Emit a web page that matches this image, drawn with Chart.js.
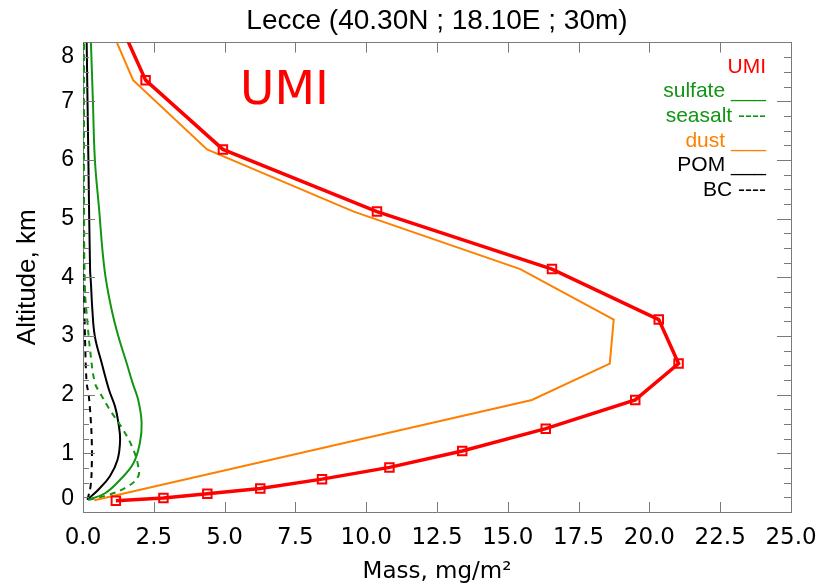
<!DOCTYPE html>
<html>
<head>
<meta charset="utf-8">
<script src="https://cdn.jsdelivr.net/npm/chart.js@4.4.0/dist/chart.umd.min.js"></script>
<style>
  body { margin: 0; background: #fff; }
  canvas { display: block; }
</style>
</head>
<body>
<canvas id="chartLecce" width="832" height="587"></canvas>
<script>
// perfiles verticales (masa mg/m2 vs altitud km)
const umiMass = [1.16, 2.84, 4.39, 6.26, 8.44, 10.82, 13.39, 16.34, 19.50, 21.03, 20.33, 16.56, 10.38, 4.94, 2.21, 1.05];
const umiAlt  = [0.19, 0.24, 0.31, 0.40, 0.56, 0.76, 1.04, 1.42, 1.91, 2.53, 3.28, 4.14, 5.12, 6.18, 7.36, 8.60];

const dustMass = [0.40, 15.85, 18.60, 18.74, 15.44, 9.56, 4.38, 1.77, 0.66];
const dustAlt  = [0.20, 1.91, 2.53, 3.28, 4.14, 5.12, 6.18, 7.36, 8.60];

const sulfateMass = [0.19, 0.78, 1.31, 1.78, 2.01, 2.07, 1.95, 1.75, 1.54, 1.25, 1.01, 0.76, 0.56, 0.42, 0.35, 0.28];
const sulfateAlt  = [0.21, 0.32, 0.55, 0.83, 1.18, 1.52, 1.91, 2.20, 2.54, 2.99, 3.45, 4.13, 5.21, 6.00, 7.00, 8.00];

const seasaltMass = [0.19, 0.89, 1.60, 1.95, 1.95, 1.78, 1.42, 0.95, 0.60, 0.42, 0.25, 0.16, 0.07, 0.04, 0.03];
const seasaltAlt  = [0.21, 0.29, 0.44, 0.61, 0.78, 1.06, 1.40, 1.74, 2.03, 2.20, 2.76, 3.22, 3.79, 5.00, 8.00];

const pomMass = [0.16, 0.54, 0.95, 1.22, 1.31, 1.25, 1.13, 0.92, 0.66, 0.42, 0.33, 0.28, 0.25, 0.19, 0.13];
const pomAlt  = [0.21, 0.38, 0.61, 0.89, 1.23, 1.52, 1.80, 2.08, 2.54, 2.99, 3.45, 3.90, 4.13, 6.00, 8.00];

const bcMass = [0.16, 0.27, 0.31, 0.31, 0.27, 0.20, 0.13, 0.08, 0.05, 0.03, 0.02];
const bcAlt  = [0.21, 0.45, 0.80, 1.20, 1.60, 2.00, 2.20, 2.80, 3.60, 5.00, 8.00];

const xTicks = [2.5, 5, 7.5, 10, 12.5, 15, 17.5, 20, 22.5];
const legendLabels = ["UMI", "sulfate ___", "seasalt ----", "dust ___", "POM ___", "BC ----"];
const legendColors = ["#ff0000", "#129512", "#129512", "#ff8000", "#000000", "#000000"];

function toPoints(xs, ys) {
  return xs.map((v, i) => ({ x: v, y: ys[i] }));
}

function perfil(data, color, width, dash, tension) {
  return {
    data: data,
    showLine: true,
    borderColor: color,
    borderWidth: width,
    borderDash: dash || [],
    pointRadius: 0,
    tension: tension,
  };
}

const extras = {
  id: "extras",
  afterDraw(chart) {
    const ctx = chart.ctx;
    const sx = chart.scales.x;
    const sy = chart.scales.y;
    const a = chart.chartArea;
    ctx.save();
    ctx.strokeStyle = "#7a7a7a";
    ctx.lineWidth = 1;
    ctx.beginPath();
    xTicks.forEach((v) => {
      const px = Math.round(sx.getPixelForValue(v)) + 0.5;
      ctx.moveTo(px, a.bottom);
      ctx.lineTo(px, a.bottom - 10);
      ctx.moveTo(px, a.top);
      ctx.lineTo(px, a.top + 10);
    });
    for (let i = 1; i < 32; i++) {
      const v = i / 4;
      const py = Math.round(sy.getPixelForValue(v)) + 0.5;
      const major = i % 4 === 0;
      ctx.moveTo(a.left, py);
      ctx.lineTo(a.left + (major ? 12 : 6), py);
      ctx.moveTo(a.right, py);
      ctx.lineTo(a.right - (major ? 14 : 7), py);
    }
    ctx.stroke();

    // etiqueta grande
    ctx.fillStyle = "#ff0000";
    ctx.font = "47px 'DejaVu Sans'";
    ctx.textAlign = "left";
    ctx.textBaseline = "alphabetic";
    ctx.fillText("UMI", 240, 104);

    // leyenda
    ctx.font = "21px 'Liberation Sans'";
    ctx.textAlign = "right";
    legendLabels.forEach((t, i) => {
      ctx.fillStyle = legendColors[i];
      ctx.fillText(t, 766, 72.5 + i * 24.7);
    });
    ctx.restore();
  },
};

const ctx = document.querySelector("#chartLecce");

const config = {
  type: "scatter",
  data: {
    datasets: [
      {
        data: toPoints(umiMass, umiAlt),
        showLine: true,
        borderColor: "#ff0000",
        borderWidth: 3.5,
        pointStyle: "rect",
        pointRadius: 6,
        pointBorderWidth: 2,
        pointBorderColor: "#ff0000",
        pointBackgroundColor: "rgba(0,0,0,0)",
        tension: 0,
      },
      perfil(toPoints(dustMass, dustAlt), "#ff8000", 2, [], 0),
      perfil(toPoints(sulfateMass, sulfateAlt), "#129512", 2, [], 0.4),
      perfil(toPoints(seasaltMass, seasaltAlt), "#129512", 2, [6, 5], 0.4),
      perfil(toPoints(pomMass, pomAlt), "#000000", 2, [], 0.4),
      perfil(toPoints(bcMass, bcAlt), "#000000", 2, [6, 5], 0.4),
    ],
  },
  options: {
    responsive: false,
    animation: false,
    layout: { padding: 0 },
    plugins: {
      legend: { display: false },
      tooltip: { enabled: false },
      title: {
        display: true,
        fullSize: false,
        text: "Lecce (40.30N ; 18.10E ; 30m)",
        color: "#000",
        font: { family: "'Liberation Sans'", size: 28, weight: "normal", lineHeight: 1.2 },
        padding: { top: 4, bottom: 0 },
      },
    },
    scales: {
      x: {
        type: "linear",
        position: "bottom",
        min: 0,
        max: 25,
        afterFit: (s) => { s.height = 75; },
        grid: { display: false, drawTicks: false },
        border: { display: true, color: "#7a7a7a", width: 1 },
        ticks: {
          stepSize: 2.5,
          padding: 12,
          color: "#000",
          font: { family: "'DejaVu Sans'", size: 23 },
          callback: (v) => v.toFixed(1),
        },
        title: {
          display: true,
          text: "Mass, mg/m²",
          color: "#000",
          font: { family: "'DejaVu Sans'", size: 23 },
          padding: { top: 0, bottom: 1 },
        },
      },
      x2: {
        type: "linear",
        position: "top",
        min: 0,
        max: 25,
        afterFit: (s) => { s.height = 5; },
        grid: { display: false, drawTicks: false },
        border: { display: true, color: "#7a7a7a", width: 1 },
        ticks: { display: false },
      },
      y: {
        type: "linear",
        position: "left",
        min: 0,
        max: 8,
        afterFit: (s) => { s.width = 83; },
        grid: { display: false, drawTicks: false },
        border: { display: true, color: "#7a7a7a", width: 1 },
        ticks: {
          stepSize: 1,
          padding: 9,
          color: "#000",
          font: { family: "'Liberation Sans'", size: 23 },
          callback: (v) => (v === 8 ? ["", "8"] : v === 0 ? ["0", ""] : String(v)),
        },
        title: {
          display: true,
          text: "Altitude, km",
          color: "#000",
          font: { family: "'Liberation Sans'", size: 26 },
          padding: { top: 12, bottom: 0 },
        },
      },
      y2: {
        type: "linear",
        position: "right",
        min: 0,
        max: 8,
        afterFit: (s) => { s.width = 41; },
        grid: { display: false, drawTicks: false },
        border: { display: true, color: "#7a7a7a", width: 1 },
        ticks: { display: false },
      },
    },
  },
  plugins: [extras],
};

const myChartLecce = new Chart(ctx, config);
</script>
</body>
</html>
